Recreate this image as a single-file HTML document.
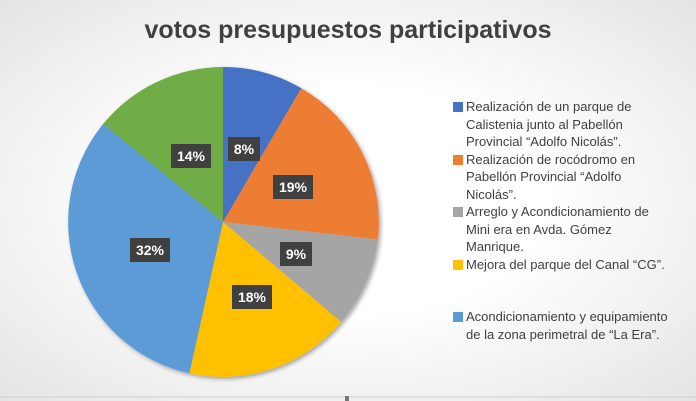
<!DOCTYPE html>
<html><head><meta charset="utf-8"><style>
body{margin:0;width:696px;height:401px;overflow:hidden;background:radial-gradient(ellipse at 50% 50%,#ffffff 40%,#e4e4e4 100%);font-family:"Liberation Sans",sans-serif}
.t{position:absolute;left:0;width:696px;top:16px;text-align:center;font-size:25px;font-weight:bold;color:#404040}
.lg{position:absolute;left:453px;font-size:13px;color:#404040;line-height:17.5px}
.lg div{position:relative;padding-left:13px;margin-bottom:0}
.lg i{position:absolute;left:0;top:4px;width:10px;height:10px}
</style></head><body>
<div class="t">votos presupuestos participativos</div>
<svg width="696" height="401" style="position:absolute;left:0;top:0">
<defs><filter id="s"><feDropShadow dx="2" dy="2" stdDeviation="2" flood-opacity="0.35"/></filter></defs>
<g filter="url(#s)">
<path d="M223,222 L223,67 A155,155 0 0 1 301.3,88.2 Z" fill="#4472c4"/>
<path d="M223,222 L301.3,88.2 A155,155 0 0 1 377.9,239.5 Z" fill="#ed7d31"/>
<path d="M223,222 L377.9,239.5 A155,155 0 0 1 341,321.9 Z" fill="#a5a5a5"/>
<path d="M223,222 L341,321.9 A155,155 0 0 1 189.4,373.3 Z" fill="#ffc000"/>
<path d="M223,222 L189.4,373.3 A155,155 0 0 1 103.2,123.9 Z" fill="#5b9bd5"/>
<path d="M223,222 L103.2,123.9 A155,155 0 0 1 223,67 Z" fill="#70ad47"/>
</g>
<g font-family="Liberation Sans" font-weight="bold" font-size="14" fill="#fff" text-anchor="middle">
<rect x="228" y="137" width="32" height="24" fill="#404040"/><text x="244" y="154">8%</text>
<rect x="273" y="175" width="40" height="24" fill="#404040"/><text x="293" y="192">19%</text>
<rect x="280" y="242" width="32" height="24" fill="#404040"/><text x="296" y="259">9%</text>
<rect x="232" y="285" width="40" height="24" fill="#404040"/><text x="252" y="302">18%</text>
<rect x="130" y="238" width="40" height="24" fill="#404040"/><text x="150" y="255">32%</text>
<rect x="171" y="144" width="40" height="24" fill="#404040"/><text x="191" y="161">14%</text>
</g>
<line x1="0" y1="397" x2="696" y2="397" stroke="#d0d0d0"/>
<rect x="345" y="396" width="4" height="5" fill="#777"/>
</svg>
<div class="lg" style="top:98px">
<div><i style="background:#4472c4"></i>Realización de un parque de<br>Calistenia junto al Pabellón<br>Provincial “Adolfo Nicolás”.</div>
<div><i style="background:#ed7d31"></i>Realización de rocódromo en<br>Pabellón Provincial “Adolfo<br>Nicolás”.</div>
<div><i style="background:#a5a5a5"></i>Arreglo y Acondicionamiento de<br>Mini era en Avda. Gómez<br>Manrique.</div>
<div style="margin-bottom:35px"><i style="background:#ffc000"></i>Mejora del parque del Canal “CG”.</div>
<div><i style="background:#5b9bd5"></i>Acondicionamiento y equipamiento<br>de la zona perimetral de “La Era”.</div>
</div>
</body></html>
